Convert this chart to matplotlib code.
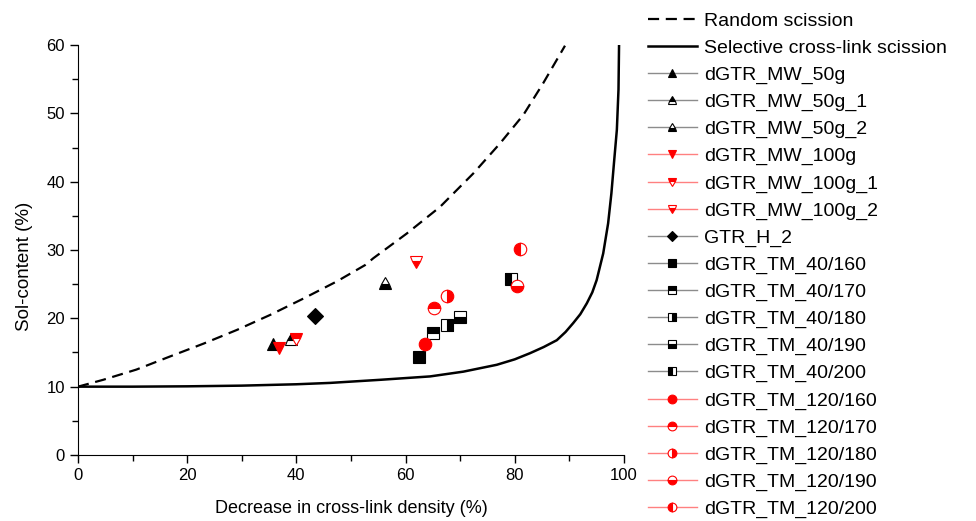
import numpy as np
import matplotlib
matplotlib.use("Agg")
import matplotlib.pyplot as plt
from matplotlib.ticker import MultipleLocator

plt.rcParams['font.family'] = ['Liberation Sans', 'DejaVu Sans']

# Horikx reference curves
random_x = [0, 4.6, 10.7, 16.8, 23.0, 29.1, 35.2, 41.3, 47.4, 52.6, 54.1, 60.2,
            66.3, 72.4, 77.3, 81.6, 85.2, 89.2]
random_y = [10, 11.0, 12.5, 14.4, 16.3, 18.3, 20.5, 22.9, 25.4, 27.8, 28.8, 32.4,
            36.3, 41.2, 45.6, 49.8, 54.4, 59.9]
select_x = [0, 10, 20, 30, 40, 46.2, 55.3, 64.5, 70.6, 76.7, 80.0, 82.8, 85.3,
            87.7, 89.3, 90.7, 92.0, 93.2, 94.2, 95.0, 96.2, 97.1, 97.7, 98.2,
            98.7, 99.0, 99.1]
select_y = [10, 10.0, 10.05, 10.15, 10.35, 10.55, 11.0, 11.5, 12.2, 13.2, 14.0,
            14.9, 15.8, 16.8, 18.0, 19.3, 20.6, 22.2, 23.8, 25.6, 29.5, 33.9,
            38.3, 43.0, 47.6, 53.5, 59.9]

# measured samples
labels = ['dGTR_MW_50g', 'dGTR_MW_50g_1', 'dGTR_MW_50g_2',
          'dGTR_MW_100g', 'dGTR_MW_100g_1', 'dGTR_MW_100g_2',
          'GTR_H_2',
          'dGTR_TM_40/160', 'dGTR_TM_40/170', 'dGTR_TM_40/180',
          'dGTR_TM_40/190', 'dGTR_TM_40/200',
          'dGTR_TM_120/160', 'dGTR_TM_120/170', 'dGTR_TM_120/180',
          'dGTR_TM_120/190', 'dGTR_TM_120/200']
crosslink_decrease = [35.8, 39.0, 56.2, 36.8, 40.0, 62.0, 43.4,
                      62.5, 65.1, 67.5, 70.0, 79.4,
                      63.6, 65.2, 67.5, 80.5, 81.0]
sol_content = [16.2, 17.0, 25.2, 15.6, 17.0, 28.3, 20.3,
               14.4, 17.9, 19.0, 20.2, 25.7,
               16.2, 21.5, 23.3, 24.7, 30.1]
markers = ['^', '^', '^', 'v', 'v', 'v', 'D',
           's', 's', 's', 's', 's',
           'o', 'o', 'o', 'o', 'o']
fills = ['full', 'top', 'bottom', 'full', 'top', 'bottom', 'full',
         'full', 'top', 'right', 'bottom', 'left',
         'full', 'top', 'right', 'bottom', 'left']
colors = ['black'] * 12 + ['red'] * 5
colors[3:6] = ['red'] * 3
sizes = {'^': 9, 'v': 9, 'D': 8, 's': 8, 'o': 9}

fig = plt.figure(figsize=(9.76, 5.21), dpi=100)
ax = fig.add_axes([0.0799, 0.1267, 0.5594, 0.7869])

ax.plot(random_x, random_y, color='black', lw=1.6, linestyle=(0, (5, 3)),
        label='Random scission')
ax.plot(select_x, select_y, color='black', lw=1.8,
        label='Selective cross-link scission')

for i in range(len(labels)):
    c = colors[i]
    line_c = '#8c8c8c' if c == 'black' else '#ff8080'
    ax.plot([crosslink_decrease[i]], [sol_content[i]], linestyle='-', lw=1.0,
            color=line_c, marker=markers[i], markersize=sizes[markers[i]],
            fillstyle=fills[i], markerfacecolor=c, markerfacecoloralt='white',
            markeredgecolor=c, markeredgewidth=0.8, label=labels[i])

ax.set_xlim(0, 100)
ax.set_ylim(0, 60)
ax.xaxis.set_major_locator(MultipleLocator(20))
ax.xaxis.set_minor_locator(MultipleLocator(10))
ax.yaxis.set_major_locator(MultipleLocator(10))
ax.yaxis.set_minor_locator(MultipleLocator(5))
ax.tick_params(which='both', direction='out', width=1.0, labelsize=12)
ax.tick_params(which='major', length=6)
ax.tick_params(which='minor', length=4)
for s in ['top', 'right']:
    ax.spines[s].set_visible(False)
ax.set_xlabel('Decrease in cross-link density (%)', fontsize=13, labelpad=12)
ax.set_ylabel('Sol-content (%)', fontsize=13.5)
ax.yaxis.set_label_coords(-0.082, 0.46)

fig.legend(loc='upper left', bbox_to_anchor=(0.654, 0.995), frameon=False,
           fontsize=14, handlelength=2.5, handletextpad=0.36,
           labelspacing=0.48, markerscale=0.7, borderaxespad=0.1)

fig.savefig('out.png', dpi=100)
